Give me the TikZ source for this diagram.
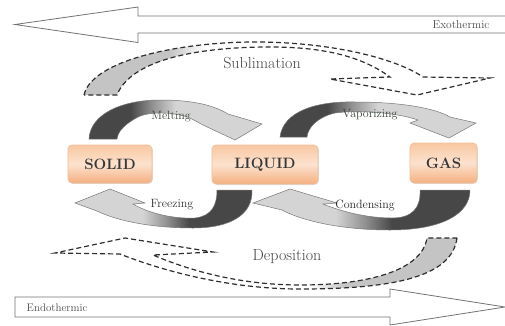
\documentclass[tikz,border=0pt]{standalone}
\usetikzlibrary{shadows}
\definecolor{dk}{HTML}{474747}
\definecolor{md}{HTML}{8E8E8E}
\definecolor{lt}{HTML}{D4D4D4}
\definecolor{edge}{HTML}{777777}
\definecolor{lbl}{HTML}{3C463C}
\definecolor{boxtop}{HTML}{F8C8A2}
\definecolor{boxmid}{HTML}{FCE2CE}
\definecolor{boxbot}{HTML}{F4AF80}
\definecolor{boxedge}{HTML}{F0BE98}
\pgfdeclarehorizontalshading{ringR}{100bp}{color(0bp)=(dk); color(25bp)=(dk); color(37bp)=(dk); color(43bp)=(md); color(50bp)=(lt); color(75bp)=(lt); color(100bp)=(lt)}
\pgfdeclarehorizontalshading{ringL}{100bp}{color(0bp)=(lt); color(25bp)=(lt); color(44bp)=(lt); color(51bp)=(md); color(57bp)=(dk); color(75bp)=(dk); color(100bp)=(dk)}
\tikzset{
  statebox/.style={rounded corners=4pt, draw=boxedge, line width=0.6pt,
    top color=boxtop, bottom color=boxbot, middle color=boxmid,
    drop shadow={shadow xshift=0.8pt, shadow yshift=-0.8pt, opacity=0.25},
    font=\fontsize{15}{15}\selectfont\bfseries, text=black!78, inner sep=0pt},
  ring/.style={draw=edge, line width=0.5pt},
  dashline/.style={draw=black!82, line width=1.2pt, dash pattern=on 5pt off 3pt},
  bigarrow/.style={draw=black!55, line width=0.8pt, fill=white},
  lab/.style={font=\fontsize{12}{12}\selectfont, text=lbl, inner sep=0pt},
}
\begin{document}
\begin{tikzpicture}[x=1pt,y=-1pt]
\useasboundingbox (0,0) rectangle (505,325);
\fill[white] (0,0) rectangle (505,325);

% Exothermic arrow
\draw[bigarrow] (506,16) -- (138,16) -- (138,7) -- (15,24.5) -- (138,42.5) -- (138,33) -- (506,33);
\node[font=\fontsize{11.5}{11.5}\selectfont, text=black!70, inner sep=0pt] (exo) at (461,25) {Exothermic};

% Endothermic arrow
\draw[bigarrow] (15,297) -- (390,297) -- (390,289) -- (505,307) -- (390,325) -- (390,317) -- (15,317) -- cycle;
\node[font=\fontsize{11}{11}\selectfont, text=black!70, inner sep=0pt] (endo) at (57,308) {Endothermic};

% Sublimation dashed arrow
\begin{scope}
  \clip (84,95) .. controls (92,60) and (180,42) .. (255,42) .. controls (330,42) and (395,58) .. (423,77)
    -- (490,78) -- (417,95) -- (330,79) -- (390,77)
    .. controls (360,55) and (320,47) .. (270,47) .. controls (190,47) and (130,62) .. (117,95) -- cycle;
  \fill[black!23] (70,30) rectangle (170,100);
  \shade[left color=black!23, right color=white] (169.5,30) rectangle (205,100);
\end{scope}
\draw[dashline] (84,95) .. controls (92,60) and (180,42) .. (255,42) .. controls (330,42) and (395,58) .. (423,77)
    -- (490,78) -- (417,95) -- (330,79) -- (390,77)
    .. controls (360,55) and (320,47) .. (270,47) .. controls (190,47) and (130,62) .. (117,95) -- cycle;
\node[lab, font=\fontsize{16}{16}\selectfont, text=black!72] (subl) at (262,63) {Sublimation};

% Deposition dashed arrow
\begin{scope}
  \clip (457,238) .. controls (452,275) and (400,289) .. (300,289) .. controls (220,289) and (150,266) .. (120,254)
    -- (55,253) -- (125,238) -- (213,252) -- (153,255)
    .. controls (200,275) and (250,285) .. (300,285) .. controls (370,285) and (422,270) .. (427,238) -- cycle;
  \fill[black!23] (345,230) rectangle (470,300);
  \shade[left color=white, right color=black!23] (310,230) rectangle (345.5,300);
\end{scope}
\draw[dashline] (457,238) .. controls (452,275) and (400,289) .. (300,289) .. controls (220,289) and (150,266) .. (120,254)
    -- (55,253) -- (125,238) -- (213,252) -- (153,255)
    .. controls (200,275) and (250,285) .. (300,285) .. controls (370,285) and (422,270) .. (427,238) -- cycle;
\node[lab, font=\fontsize{16}{16}\selectfont, text=black!72] (depo) at (287,257) {Deposition};

% Melting
\shadedraw[ring, shading=ringR] (89,139) .. controls (90,115) and (120,100) .. (160,100)
  .. controls (195,100) and (215,106) .. (228,114) -- (262,124) -- (235,140) -- (203,125) -- (190,118)
  .. controls (175,112) and (150,111) .. (138,117) .. controls (125,124) and (118,131) .. (117,139) -- cycle;
% Freezing
\shadedraw[ring, shading=ringL] (252,190) .. controls (253,215) and (230,228) .. (193,228)
  .. controls (150,228) and (115,220) .. (97,211) -- (75,203) -- (110,189) -- (145,203) -- (133,204)
  .. controls (150,214) and (175,219) .. (195,218) .. controls (212,216) and (217,205) .. (217,190) -- cycle;
% Vaporizing
\shadedraw[ring, shading=ringR] (280,137) .. controls (283,112) and (315,101) .. (355,102)
  .. controls (400,102) and (435,108) .. (450,117) -- (476,123) -- (449,138) -- (410,123) -- (418,120)
  .. controls (395,112) and (355,110) .. (335,113) .. controls (318,117) and (308,127) .. (307,137) -- cycle;
% Condensing
\shadedraw[ring, shading=ringL] (470,190) .. controls (470,215) and (440,230) .. (390,230)
  .. controls (340,230) and (300,220) .. (282,210) -- (253,203) -- (290,189) -- (337,203) -- (323,204)
  .. controls (345,213) and (370,218) .. (392,218) .. controls (412,218) and (421,208) .. (420,190) -- cycle;

\node[lab] (melt) at (171,117) {Melting};
\node[lab, text=black!80] (freez) at (172,205) {Freezing};
\node[lab] (vapor) at (370,115) {Vaporizing};
\node[lab, text=black!85] (cond) at (365,205) {Condensing};

% State boxes
\node[statebox, minimum width=84pt, minimum height=38pt] (solid) at (110,164) {SOLID};
\node[statebox, minimum width=106pt, minimum height=39pt] (liquid) at (265,164.5) {LIQUID};
\node[statebox, minimum width=67pt, minimum height=40pt] (gas) at (443.5,163) {GAS};
\end{tikzpicture}
\end{document}
